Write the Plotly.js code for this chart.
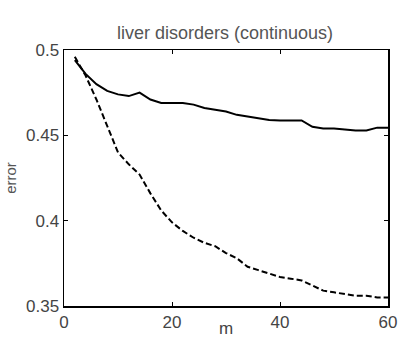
<!DOCTYPE html>
<html>
<head>
<meta charset="utf-8">
<script src="https://cdn.plot.ly/plotly-3.0.1.min.js"></script>
<style>html,body{margin:0;padding:0;background:#fff;}#chart{width:401px;height:339px;}</style>
</head>
<body>
<div id="chart"></div>
<script>
var mValues = [2,4,6,8,10,12,14,16,18,20,22,24,26,28,30,32,34,36,38,40,42,44,46,48,50,52,54,56,58,60];
var solidError = [0.494,0.486,0.480,0.476,0.474,0.473,0.475,0.471,0.469,0.469,0.469,0.468,0.466,0.465,0.464,0.462,0.461,0.460,0.459,0.4587,0.4587,0.4587,0.455,0.454,0.454,0.4535,0.4528,0.4528,0.4545,0.4545];
var dashedError = [0.496,0.485,0.471,0.456,0.440,0.433,0.427,0.416,0.406,0.399,0.394,0.390,0.387,0.385,0.381,0.378,0.373,0.371,0.369,0.367,0.366,0.365,0.362,0.359,0.358,0.357,0.356,0.356,0.355,0.355];
var xTicks = [0,20,40,60];
var yTicks = [0.35,0.4,0.45,0.5];
var yTickText = ['0.35','0.4','0.45','0.5'];
var xLabel = 'm';

var traces = [
  {x: mValues, y: solidError, mode: 'lines', line: {color: '#000', width: 2}, hoverinfo: 'none'},
  {x: mValues, y: dashedError, mode: 'lines', line: {color: '#000', width: 2, dash: '6px,3px'}, hoverinfo: 'none'}
];
var fam = 'Arial, Liberation Sans, sans-serif';
var tickFont = {family: fam, size: 17, color: '#444'};
var layout = {
  width: 401, height: 339,
  margin: {l: 64, r: 13, t: 50, b: 33},
  paper_bgcolor: '#fff', plot_bgcolor: '#fff',
  showlegend: false,
  font: tickFont,
  title: {text: 'liver disorders (continuous)', font: {family: fam, size: 18, color: '#555'}, x: 0.561, xanchor: 'center', y: 0.905, yanchor: 'middle'},
  xaxis: {
    range: [0, 60], tickvals: xTicks, ticks: 'inside', ticklen: 4, tickcolor: '#000', tickwidth: 1,
    showline: true, linecolor: '#000', linewidth: 1.5, mirror: 'ticks', showgrid: false, zeroline: false,
    tickfont: tickFont
  },
  yaxis: {
    range: [0.35, 0.5], tickvals: yTicks, ticktext: yTickText, ticks: 'inside', ticklen: 4, tickcolor: '#000', tickwidth: 1,
    showline: true, linecolor: '#000', linewidth: 1.5, mirror: 'ticks', showgrid: false, zeroline: false,
    tickfont: tickFont,
    title: {text: 'error', font: {family: fam, size: 15, color: '#555'}, standoff: 6}
  },
  annotations: [
    {text: xLabel, xref: 'paper', yref: 'paper', x: 0.5, y: -0.127, xanchor: 'center', yanchor: 'bottom', showarrow: false, borderpad: 0, font: {family: fam, size: 17, color: '#444'}}
  ]
};
Plotly.newPlot('chart', traces, layout, {staticPlot: true, displayModeBar: false});
</script>
</body>
</html>
